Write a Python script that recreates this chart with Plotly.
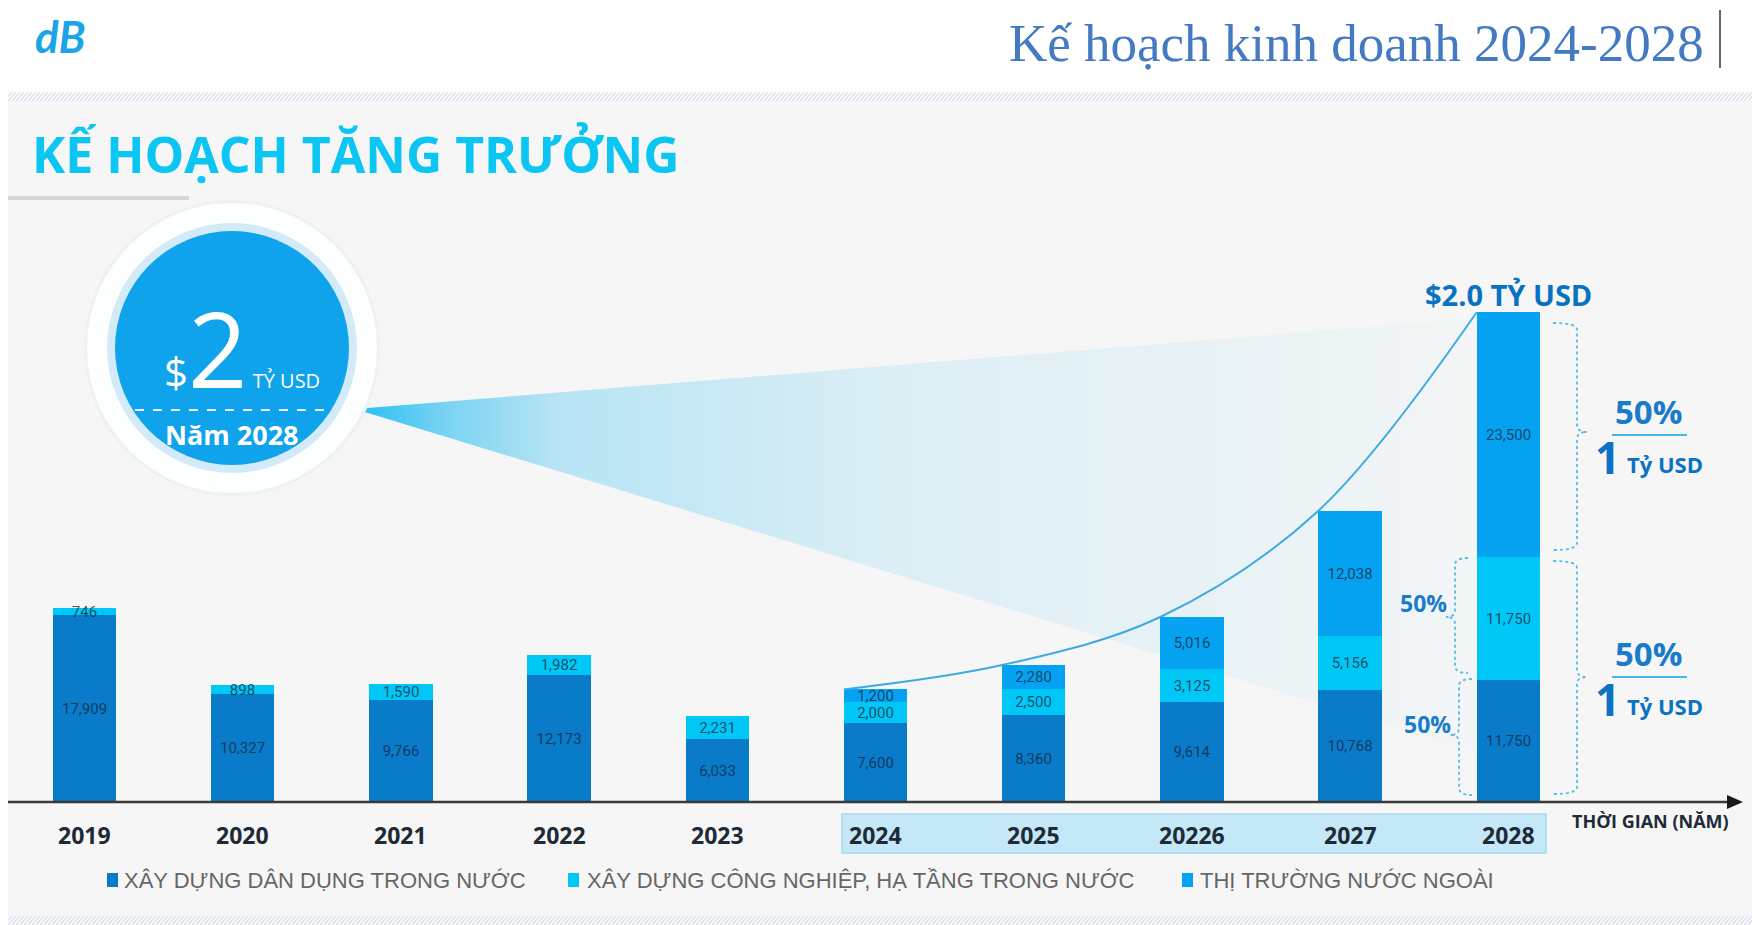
import plotly.graph_objects as go

# ---- du lieu ----
years = ["2019", "2020", "2021", "2022", "2023", "2024", "2025", "20226", "2027", "2028"]
dan_dung = [17909, 10327, 9766, 12173, 6033, 7600, 8360, 9614, 10768, 11750]
cong_nghiep = [746, 898, 1590, 1982, 2231, 2000, 2500, 3125, 5156, 11750]
nuoc_ngoai = [None, None, None, None, None, 1200, 2280, 5016, 12038, 23500]
series_names = ["XÂY DỰNG DÂN DỤNG TRONG NƯỚC",
                "XÂY DỰNG CÔNG NGHIỆP, HẠ TẦNG TRONG NƯỚC",
                "THỊ TRƯỜNG NƯỚC NGOÀI"]
colors = ["#0A7BC9", "#00C8F6", "#04A2F0"]
plan_start = 5  # 2024

W, H = 1760, 925
OFF = 8            # le cua trang html
BG = "#F6F6F6"
X0, DX = 84.5, 158.2      # tam cot dau tien, khoang cach cot (px)
Y0, KY = 802, 0.01042     # duong day, px tren moi don vi
xi = list(range(len(years)))
totals = [a + b + (c or 0) for a, b, c in zip(dan_dung, cong_nghiep, nuoc_ngoai)]

fig = go.Figure()

# ---- nen: soc ngang ----
hx, hy = [], []
for band in [(92, 101), (916, 925)]:
    x = -12
    while x < W + 12:
        hx += [x, x + 8, None]
        hy += [band[1], band[0], None]
        x += 4
fig.add_trace(go.Scatter(x=hx, y=hy, mode="lines", line=dict(color="#D8DFEA", width=1.4),
                         hoverinfo="skip", showlegend=False, xaxis="x", yaxis="y"))

# ---- tia sang tu vong tron ----
fig.add_trace(go.Scatter(
    x=[355, 1477, 1477, 355], y=[409, 318, 752, 409], mode="lines", fill="toself",
    line=dict(width=0), hoverinfo="skip", showlegend=False,
    fillgradient=dict(type="horizontal", colorscale=[
        [0.0, "rgba(30,190,244,0.97)"], [0.08, "rgba(30,185,240,0.58)"],
        [0.18, "rgba(30,185,240,0.29)"], [0.48, "rgba(30,185,240,0.12)"],
        [0.88, "rgba(30,185,240,0.04)"], [1.0, "rgba(30,185,240,0.01)"]]),
    xaxis="x", yaxis="y"))

# ---- cot chong ----
for vals, name, col in zip([dan_dung, cong_nghiep, nuoc_ngoai], series_names, colors):
    fig.add_trace(go.Bar(
        x=xi, y=vals, name=name, marker=dict(color=col, line=dict(width=0)), width=0.4,
        texttemplate="%{y:,}", textposition="inside", insidetextanchor="middle",
        textangle=0, constraintext="none",
        textfont=dict(family="Roboto", size=15, color="rgba(20,40,65,0.78)"),
        customdata=years, hovertemplate="%{customdata}: %{y:,}<extra>" + name + "</extra>",
        xaxis="x2", yaxis="y2", showlegend=False))

# duong tang truong qua dinh cac cot ke hoach
fig.add_trace(go.Scatter(
    x=[i - 0.2 for i in xi[plan_start:]], y=totals[plan_start:], mode="lines",
    line=dict(color="#3FAAE2", width=2, shape="spline", smoothing=1.0),
    hoverinfo="skip", showlegend=False, xaxis="x2", yaxis="y2"))

shapes = []
ann = []

def rect(x0, y0, x1, y1, fill, layer="below", lc=None, lw=0):
    shapes.append(dict(type="rect", xref="x", yref="y", x0=x0, y0=y0, x1=x1, y1=y1,
                       fillcolor=fill, line=dict(color=lc or fill, width=lw), layer=layer))

def line(x0, y0, x1, y1, col, w, dash="solid", layer="above"):
    shapes.append(dict(type="line", xref="x", yref="y", x0=x0, y0=y0, x1=x1, y1=y1,
                       line=dict(color=col, width=w, dash=dash), layer=layer))

def circle(cx, cy, r, fill):
    shapes.append(dict(type="circle", xref="x", yref="y", x0=cx - r, y0=cy - r, x1=cx + r, y1=cy + r,
                       fillcolor=fill, line=dict(width=0), layer="above"))

def text(x, y, s, size, col, fam="Open Sans", xa="center", xref="x", yref="y", **kw):
    ann.append(dict(x=x, y=y, xref=xref, yref=yref, text=s, showarrow=False, xanchor=xa,
                    yanchor="middle", font=dict(family=fam, size=size, color=col), **kw))

def brace(xv, yt, yb, xs, xn, yn, r=7):
    p = (f"M {xs},{yt} Q {xv},{yt} {xv},{yt + r} L {xv},{yn - r} Q {xv},{yn} {xn},{yn} "
         f"Q {xv},{yn} {xv},{yn + r} L {xv},{yb - r} Q {xv},{yb} {xs},{yb}")
    shapes.append(dict(type="path", xref="x", yref="y", path=p,
                       line=dict(color="#55BCE8", width=1.8, dash="dot"), layer="above"))

# nen xam
rect(-OFF, 101, W + OFF, 916, BG)
# luoi doc giua cac nam
for i in range(-1, len(years)):
    shapes.append(dict(type="line", xref="x2", yref="y", x0=i + 0.5, x1=i + 0.5, y0=283, y1=802,
                       line=dict(color="#E0E0E0", width=1), layer="below"))
# hop nam ke hoach
rect(842, 814, 1546, 853, "#C4E8F8", lc="#A8D6EC", lw=1.5)

# truc thoi gian
line(-OFF, 802, 1730, 802, "#3A3A3A", 2.4)
shapes.append(dict(type="path", xref="x", yref="y", path="M 1727,795 L 1743,802 L 1727,809 Z",
                   fillcolor="#1A1A1A", line=dict(width=0), layer="above"))

# tieu de
text(1706, 43, "Kế hoạch kinh doanh 2024-2028", 53, "#4479C4", fam="Liberation Serif", xa="right")
line(1720, 10, 1720, 68, "#666666", 2)
text(60, 36, "<b><i>dB</i></b>", 44, "#1BA5E6", fam="Lato")
text(30, 154, "<b>KẾ HOẠCH TĂNG TRƯỞNG</b>", 50, "#0BC5F2", xa="left")
line(-OFF, 198, 189, 198, "#D6D6D6", 4)

# vong tron $2 ty
circle(232, 348, 148, "#EEF2F5")
circle(232, 348, 145, "#FDFEFE")
circle(232, 348, 125, "#D3EBF9")
circle(232, 348, 117, "#0EA3EB")
line(135, 410, 333, 410, "rgba(255,255,255,0.9)", 2, dash="dash")
text(162, 347, "<span style='font-size:42px'>$</span>2"
     "<span style='font-size:20px'> TỶ USD</span>", 104, "white", xa="left")
text(232, 434, "<b>Năm 2028</b>", 27, "white")

# nhan nam
for i, yr in enumerate(years):
    text(i, 835, f"<b>{yr}</b>", 23, "#1E2A36", xref="x2")
text(1650, 821, "<b>THỜI GIAN (NĂM)</b>", 18, "#1E2A36")

# tong 2028
text(xi[-1], totals[-1], "<b>$2.0 TỶ USD</b>", 29, "#0872C2", xref="x2", yref="y2", yshift=18)

# ngoac va ty le
brace(1577, 323, 550, 1553, 1587, 432)
brace(1577, 561, 794, 1553, 1587, 677)
brace(1455, 558, 673, 1468, 1446, 617)
brace(1459, 679, 795, 1472, 1450, 735)
text(1423, 603, "<b>50%</b>", 23, "#1A7BCB")
text(1427, 724, "<b>50%</b>", 23, "#1A7BCB")
for yc in (411, 653):
    text(1648, yc, "<b>50%</b>", 33, "#1A7BCB")
    line(1612, yc + 24, 1687, yc + 24, "#47B5EA", 2.2)
    text(1607, yc + 46, "<b>1</b>", 44, "#0B72C4")
    text(1665, yc + 53, "<b>Tỷ USD</b>", 22, "#0B72C4")

# chu giai
leg_x = [(107, 122), (568, 585), (1182, 1198)]
for (mx, tx), name, col in zip(leg_x, series_names, colors):
    rect(mx, 873, mx + 11, 887, col, layer="above")
    text(tx, 880, name, 22, "#666666", fam="Liberation Sans", xa="left")

fig.update_layout(
    width=W, height=H, margin=dict(l=0, r=0, t=0, b=0),
    paper_bgcolor="white", plot_bgcolor="rgba(0,0,0,0)",
    barmode="stack", bargap=0, showlegend=False,
    uniformtext=dict(mode="show", minsize=14),
    shapes=shapes, annotations=ann,
    xaxis=dict(range=[OFF, W + OFF], visible=False, domain=[0, 1], fixedrange=True),
    yaxis=dict(range=[H + OFF, OFF], visible=False, domain=[0, 1], fixedrange=True),
    xaxis2=dict(range=[(OFF - X0) / DX, (OFF + W - X0) / DX], visible=False,
                overlaying="x", anchor="y2", fixedrange=True),
    yaxis2=dict(range=[(Y0 - OFF - H) / KY, (Y0 - OFF) / KY], visible=False,
                overlaying="y", anchor="x2", fixedrange=True),
)

fig.write_html("out.html")
